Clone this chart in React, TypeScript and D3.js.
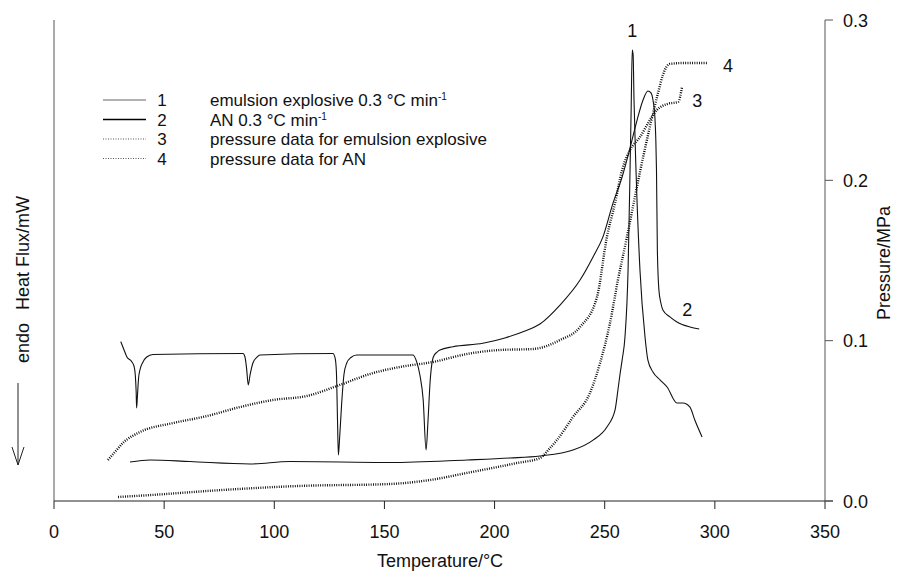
import React from "react";
import * as d3 from "d3";

const W = 899;
const H = 571;

// Temperature ticks (°C) and pressure ticks (MPa)
const tempTicks = [0, 50, 100, 150, 200, 250, 300, 350];
const pressureTicks = [0.0, 0.1, 0.2, 0.3];

// Heat flux in arbitrary units (left axis carries no ticks)
const emulsionDSC: [number, number][] = [
  [34.5, 2.43], [43.6, 2.56], [61.7, 2.46], [89.0, 2.31], [107.1, 2.46], [152.5, 2.4],
  [187.5, 2.56], [207.0, 2.68], [220.6, 2.81], [235.6, 3.18], [244.7, 3.8], [251.0, 4.62],
  [254.7, 5.68], [256.0, 6.92], [256.9, 7.86], [257.9, 8.79], [259.2, 10.23], [260.6, 14.41],
  [261.5, 20.64], [262.0, 24.39], [262.5, 28.13], [262.9, 27.82], [263.3, 25.01], [264.2, 20.64],
  [266.0, 14.41], [268.3, 10.23], [269.6, 8.79], [271.9, 8.05], [275.1, 7.55], [278.3, 7.11],
  [282.8, 6.11], [285.5, 6.11], [288.7, 5.86], [290.9, 5.05], [294.2, 3.99],
];

const anDSC: [number, number][] = [
  [30.3, 9.94], [31.8, 9.42], [33.1, 8.98], [35.3, 8.69], [36.3, 8.42], [36.9, 7.86],
  [37.3, 6.8], [37.5, 5.8], [37.9, 6.61], [38.4, 7.67], [39.0, 8.17], [40.4, 8.67],
  [42.1, 8.98], [44.9, 9.14], [85.8, 9.2], [86.7, 8.98], [87.4, 8.3], [88.2, 7.24],
  [89.0, 7.86], [90.3, 8.61], [92.2, 8.98], [93.5, 9.11], [126.6, 9.2], [127.6, 8.92],
  [128.2, 8.05], [128.7, 5.05], [129.1, 2.87], [129.6, 3.8], [130.6, 6.11], [131.6, 7.86],
  [132.9, 8.61], [134.8, 8.95], [137.4, 9.11], [163.0, 9.11], [164.6, 8.69], [166.1, 7.86],
  [167.6, 6.3], [168.9, 3.18], [169.8, 5.05], [170.7, 7.36], [172.2, 8.98], [173.9, 9.29],
  [175.2, 9.42], [181.1, 9.62], [194.7, 9.84], [204.7, 10.17], [213.8, 10.6], [220.6, 11.04],
  [229.7, 12.22], [238.8, 13.78], [244.7, 15.22], [249.2, 16.47], [253.8, 18.59], [257.9, 20.21],
  [261.5, 22.02], [264.7, 23.76], [267.4, 25.01], [269.6, 25.57], [271.0, 25.45], [271.9, 25.01],
  [272.8, 23.89], [273.2, 22.52], [273.5, 20.64], [273.9, 15.66], [274.6, 13.16], [275.5, 12.35],
  [276.4, 11.91], [279.6, 11.48], [282.8, 11.16], [288.7, 10.85], [292.9, 10.73],
];

const emulsionPressure: [number, number][] = [
  [24.5, 0.0256], [27.7, 0.0306], [31.3, 0.0362], [39.0, 0.043], [54.0, 0.0486], [69.5, 0.053],
  [84.4, 0.0586], [99.4, 0.063], [114.8, 0.0655], [129.8, 0.0724], [144.8, 0.0798], [157.1, 0.0836],
  [172.0, 0.0867], [187.5, 0.0917], [202.5, 0.0942], [217.4, 0.0948], [229.7, 0.1004], [238.8, 0.1085],
  [246.5, 0.1272], [251.0, 0.1647], [254.7, 0.1859], [257.9, 0.2065], [261.5, 0.2189], [266.0, 0.227],
  [270.5, 0.2376], [273.7, 0.2439], [278.3, 0.2476], [283.3, 0.2489], [285.1, 0.2582],
];

const anPressure: [number, number][] = [
  [29.1, 0.0025], [43.6, 0.0037], [76.7, 0.0069], [111.7, 0.0094], [152.5, 0.0106], [170.7, 0.0131],
  [187.5, 0.0175], [210.2, 0.0237], [220.6, 0.0268], [225.2, 0.0331], [228.3, 0.038], [235.6, 0.0524],
  [243.3, 0.0674], [247.9, 0.0861], [252.4, 0.111], [256.0, 0.1378], [260.1, 0.1647], [263.7, 0.1896],
  [266.0, 0.2052], [270.5, 0.2333], [274.2, 0.2545], [276.4, 0.2657], [279.6, 0.2726], [286.4, 0.2732],
  [296.4, 0.2732],
];

const legendNums = ["1", "2", "3", "4"];
const legendLabels = [
  "emulsion explosive 0.3 °C min",
  "AN 0.3 °C min",
  "pressure data for emulsion explosive",
  "pressure data for AN",
];
const legendSups = ["-1", "-1", "", ""];

const FONT = "'Liberation Sans', Arial, Helvetica, sans-serif";
const FS = 18;
const LFS = 17;

export default function App() {
  const x = d3.scaleLinear().domain([0, 350]).range([54, 825]);
  const yP = d3.scaleLinear().domain([0, 0.3]).range([501, 20]);
  const yHF = d3.scaleLinear().domain([0, 30]).range([501, 20]);

  const dscLine = d3
    .line<[number, number]>()
    .x((d) => x(d[0]))
    .y((d) => yHF(d[1]))
    .curve(d3.curveMonotoneX);
  const pLine = d3
    .line<[number, number]>()
    .x((d) => x(d[0]))
    .y((d) => yP(d[1]))
    .curve(d3.curveMonotoneX);

  const x0 = x.range()[0];
  const x1 = x.range()[1];
  const yb = yP.range()[0];
  const yt = yP.range()[1];

  const legendRowY = [100, 119.5, 139, 158.5];
  const legendStyles = [
    { stroke: "#666", w: 1.2, dash: "" },
    { stroke: "#000", w: 1.6, dash: "" },
    { stroke: "#555", w: 1, dash: "1 1.5" },
    { stroke: "#555", w: 1, dash: "1 1.5" },
  ];

  return (
    <svg
      width={W}
      height={H}
      style={{ position: "absolute", left: 0, top: 0, background: "#fff" }}
      fontFamily={FONT}
    >
      <rect width={W} height={H} fill="#fff" />
      {/* axes */}
      <line x1={x0} y1={yb} x2={x1 + 8} y2={yb} stroke="#222" strokeWidth={1} />
      <line x1={x0} y1={yt} x2={x0} y2={yb} stroke="#555" strokeWidth={1} />
      <line x1={x1} y1={yt} x2={x1} y2={yb} stroke="#555" strokeWidth={1} />
      {tempTicks.map((t) => (
        <g key={t}>
          <line x1={x(t)} y1={yb} x2={x(t)} y2={yb + 8} stroke="#222" strokeWidth={1} />
          <text x={x(t)} y={538} fontSize={FS} textAnchor="middle" fill="#111">
            {t}
          </text>
        </g>
      ))}
      {pressureTicks.map((p) => (
        <g key={p}>
          <line x1={x1} y1={yP(p)} x2={x1 + 8} y2={yP(p)} stroke="#555" strokeWidth={1} />
          <text x={843} y={yP(p) + 6.5} fontSize={FS} fill="#111">
            {p.toFixed(1)}
          </text>
        </g>
      ))}
      <text x={440} y={567} fontSize={FS} textAnchor="middle" fill="#111">
        Temperature/°C
      </text>
      <text
        transform={`translate(890,263) rotate(-90)`}
        fontSize={FS}
        textAnchor="middle"
        fill="#111"
      >
        Pressure/MPa
      </text>
      <text transform={`translate(29,253) rotate(-90)`} fontSize={FS} textAnchor="middle" fill="#111">
        Heat Flux/mW
      </text>
      <text transform={`translate(29,343) rotate(-90)`} fontSize={FS} textAnchor="middle" fill="#111">
        endo
      </text>
      <line x1={18} y1={383} x2={18} y2={465} stroke="#222" strokeWidth={1} />
      <polyline points="12,447 18,465 24,447" fill="none" stroke="#222" strokeWidth={1} />

      {/* pressure curves (dotted, noisy-looking) */}
      <path
        d={pLine(emulsionPressure) || ""}
        fill="none"
        stroke="#000"
        strokeWidth={2.4}
        strokeDasharray="0.9 1.4"
      />
      <path
        d={pLine(anPressure) || ""}
        fill="none"
        stroke="#000"
        strokeWidth={2.4}
        strokeDasharray="0.9 1.4"
      />
      {/* DSC curves */}
      <path d={dscLine(emulsionDSC) || ""} fill="none" stroke="#111" strokeWidth={1.1} />
      <path d={dscLine(anDSC) || ""} fill="none" stroke="#111" strokeWidth={1.1} />

      {/* curve labels */}
      <text x={x(262.5)} y={37} fontSize={FS} textAnchor="middle" fill="#111">1</text>
      <text x={x(287.5)} y={316} fontSize={FS} textAnchor="middle" fill="#111">2</text>
      <text x={x(292)} y={107} fontSize={FS} textAnchor="middle" fill="#111">3</text>
      <text x={x(306)} y={72} fontSize={FS} textAnchor="middle" fill="#111">4</text>

      {/* legend */}
      {legendNums.map((n, i) => (
        <g key={n}>
          <line
            x1={103}
            x2={146}
            y1={legendRowY[i]}
            y2={legendRowY[i]}
            stroke={legendStyles[i].stroke}
            strokeWidth={legendStyles[i].w}
            strokeDasharray={legendStyles[i].dash}
          />
          <text x={162} y={legendRowY[i] + 6} fontSize={LFS} textAnchor="middle" fill="#111">
            {n}
          </text>
          <text x={210} y={legendRowY[i] + 6} fontSize={LFS} fill="#111">
            {legendLabels[i]}
            {legendSups[i] && (
              <tspan dy={-6} fontSize={10}>
                {legendSups[i]}
              </tspan>
            )}
          </text>
        </g>
      ))}
    </svg>
  );
}
